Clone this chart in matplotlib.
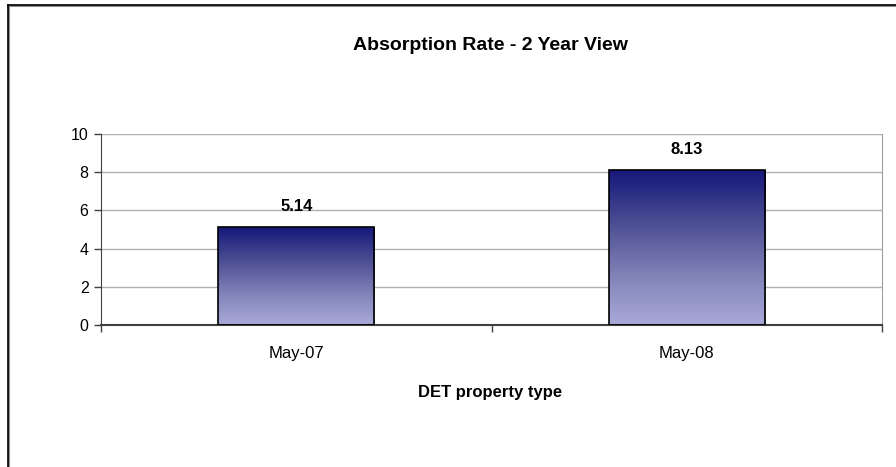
import matplotlib
matplotlib.use("Agg")
import matplotlib.pyplot as plt
import numpy as np
from matplotlib.colors import LinearSegmentedColormap
from matplotlib.lines import Line2D

categories = ["May-07", "May-08"]
values = [5.14, 8.13]
yticks = [0, 2, 4, 6, 8, 10]
title = "Absorption Rate - 2 Year View"
xlabel = "DET property type"

plt.rcParams['font.family'] = ['Liberation Sans', 'DejaVu Sans']

W, H = 896, 467
fig = plt.figure(figsize=(W / 100, H / 100), dpi=100)
ax = fig.add_axes([101 / W, 1 - 325 / H, (882 - 101) / W, (325 - 134) / H])

x = np.arange(len(categories))
bars = ax.bar(x, values, width=0.4, facecolor='none', edgecolor='black', linewidth=1.2, zorder=3)

cmap = LinearSegmentedColormap.from_list("g", ["#a9aad8", "#7f80b6", "#4a4c92", "#15167a"])
grad = np.linspace(0, 1, 256).reshape(-1, 1)
for b in bars:
    x0, y0 = b.get_x(), b.get_y()
    w, h = b.get_width(), b.get_height()
    im = ax.imshow(grad, cmap=cmap, origin='lower', aspect='auto',
                   extent=[x0, x0 + w, y0, y0 + h], zorder=2)
    im.set_clip_path(b)
    ax.text(x0 + w / 2, h + 0.65, f"{h:.2f}", ha='center', va='bottom',
            fontsize=12, fontweight='bold')

ax.set_xlim(-0.5, len(categories) - 0.5)
ax.set_ylim(0, 10)
ax.set_yticks(yticks)
ax.set_yticklabels([str(t) for t in yticks], fontsize=11.5)
ax.yaxis.grid(True, color='#b0b0b0', linewidth=1, zorder=0)
ax.set_axisbelow(True)

ax.set_xticks(x)
ax.set_xticklabels(categories, fontsize=12)
ax.tick_params(axis='x', length=0, pad=15)
ax.set_xticks(np.arange(-0.5, len(categories)), minor=True)
ax.tick_params(axis='x', which='minor', length=5, color='#404040', width=1)
ax.tick_params(axis='y', length=5, color='#404040', width=1, pad=4)

ax.spines['top'].set_visible(False)
ax.spines['right'].set_color('#a0a0a0')
ax.spines['left'].set_color('#404040')
ax.spines['bottom'].set_color('#404040')
ax.spines['bottom'].set_linewidth(1.5)

fig.text(490 / W, 1 - 46 / H, title, ha='center', va='center', fontsize=14, fontweight='bold')
fig.text(490 / W, 1 - 392 / H, xlabel, ha='center', va='center', fontsize=12, fontweight='bold')

# outer chart border (partially visible: left and top)
fig.add_artist(Line2D([9 / W, 9 / W], [0, 1 - 6 / H], transform=fig.transFigure, color='#909090', linewidth=1.5))
fig.add_artist(Line2D([8 / W, 1], [1 - 6 / H, 1 - 6 / H], transform=fig.transFigure, color='#909090', linewidth=1.5))
fig.add_artist(Line2D([8 / W, 8 / W], [0, 1 - 5 / H], transform=fig.transFigure, color='black', linewidth=1.2))
fig.add_artist(Line2D([8 / W, 1], [1 - 5 / H, 1 - 5 / H], transform=fig.transFigure, color='black', linewidth=1.2))

fig.savefig("out.png", dpi=100)
